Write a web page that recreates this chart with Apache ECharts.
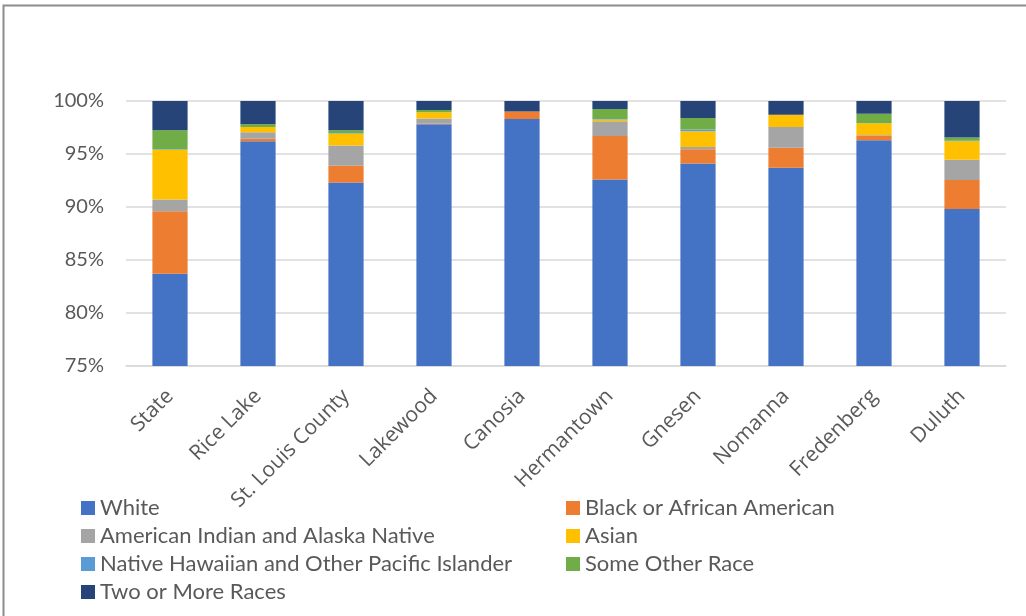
<!DOCTYPE html>
<html>
<head>
<meta charset="utf-8">
<script src="https://cdn.jsdelivr.net/npm/echarts@6/dist/echarts.min.js"></script>
<style>
  html, body { margin: 0; padding: 0; background: #ffffff; }
  #chart { width: 1026px; height: 616px; }
</style>
</head>
<body>
<div id="chart"></div>
<script>
// Places along the x axis
const places = ['State', 'Rice Lake', 'St. Louis County', 'Lakewood', 'Canosia',
  'Hermantown', 'Gnesen', 'Nomanna', 'Fredenberg', 'Duluth'];

// Share of population by race (percent), one array per group
const white       = [83.7, 96.2, 92.3, 97.8, 98.3, 92.6, 94.1, 93.7, 96.3, 89.8];
const black       = [5.9, 0.25, 1.6, 0.05, 0.7, 4.1, 1.35, 1.9, 0.45, 2.75];
const amIndian    = [1.1, 0.6, 1.9, 0.5, 0.0, 1.4, 0.2, 1.95, 0.05, 1.9];
const asian       = [4.7, 0.5, 1.1, 0.6, 0.0, 0.15, 1.5, 1.15, 1.1, 1.75];
const hawaiian    = [0.05, 0.0, 0.05, 0.0, 0.0, 0.05, 0.15, 0.0, 0.0, 0.05];
const otherRace   = [1.8, 0.25, 0.3, 0.2, 0.0, 0.95, 1.1, 0.0, 0.9, 0.3];
const twoOrMore   = [2.75, 2.2, 2.75, 0.85, 1.0, 0.75, 1.6, 1.3, 1.2, 3.45];

// Value axis ticks
const yMin = 75, yMax = 100, yStep = 5;

const groups = [
  { name: 'White', data: white, color: '#4472C4' },
  { name: 'Black or African American', data: black, color: '#ED7D31' },
  { name: 'American Indian and Alaska Native', data: amIndian, color: '#A5A5A5' },
  { name: 'Asian', data: asian, color: '#FFC000' },
  { name: 'Native Hawaiian and Other Pacific Islander', data: hawaiian, color: '#5B9BD5' },
  { name: 'Some Other Race', data: otherRace, color: '#70AD47' },
  { name: 'Two or More Races', data: twoOrMore, color: '#264478' }
];

const chart = echarts.init(document.getElementById('chart'), null, { renderer: 'canvas' });

const legendText = { fontFamily: 'Lato', fontSize: 22, color: '#595959', lineHeight: 22 };

chart.setOption({
  animation: false,
  backgroundColor: '#ffffff',
  graphic: [{
    type: 'rect',
    shape: { x: 3.5, y: 5.5, width: 1040, height: 640 },
    style: { fill: 'none', stroke: '#8c8c8c', lineWidth: 2 },
    silent: true
  }],
  grid: { left: 126, right: 20, top: 101, bottom: 250, containLabel: false },
  legend: [
    {
      data: ['White', 'American Indian and Alaska Native',
        'Native Hawaiian and Other Pacific Islander', 'Two or More Races'],
      orient: 'vertical', left: 81, top: 497,
      itemWidth: 14, itemHeight: 14, itemGap: 6,
      icon: 'rect', textStyle: legendText, padding: 0
    },
    {
      data: ['Black or African American', 'Asian', 'Some Other Race'],
      orient: 'vertical', left: 566, top: 497,
      itemWidth: 14, itemHeight: 14, itemGap: 6,
      icon: 'rect', textStyle: legendText, padding: 0
    }
  ],
  xAxis: {
    type: 'category',
    data: places,
    axisLine: { show: true, lineStyle: { color: '#d9d9d9', width: 1.5 } },
    axisTick: { show: false },
    axisLabel: {
      rotate: 45, interval: 0, margin: 27,
      fontFamily: 'Open Sans', fontSize: 21, color: '#595959'
    }
  },
  yAxis: {
    type: 'value',
    min: yMin, max: yMax, interval: yStep,
    axisLine: { show: false },
    axisTick: { show: false },
    splitLine: { lineStyle: { color: '#d9d9d9', width: 1.5 } },
    axisLabel: {
      formatter: '{value}%', margin: 22,
      fontFamily: 'Lato', fontSize: 20, color: '#595959'
    }
  },
  series: groups.map(g => ({
    name: g.name,
    type: 'bar',
    stack: 'race',
    barWidth: '40%',
    data: g.data,
    itemStyle: { color: g.color }
  }))
});
</script>
</body>
</html>
